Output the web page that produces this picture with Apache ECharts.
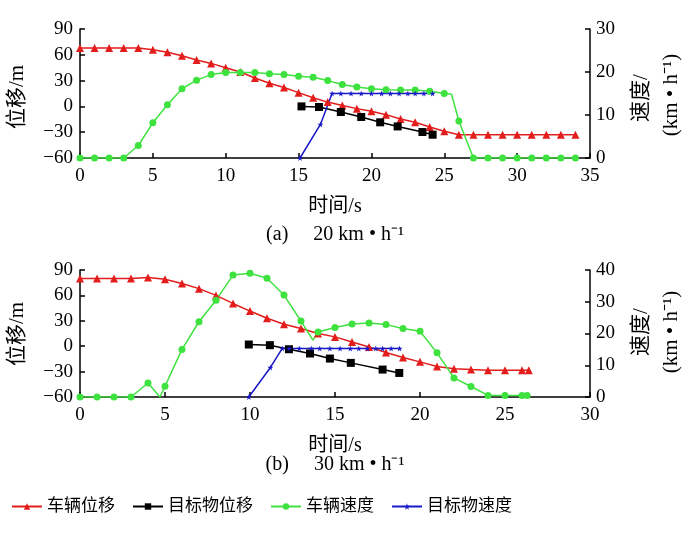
<!DOCTYPE html>
<html>
<head>
<meta charset="UTF-8">
<script src="https://cdn.jsdelivr.net/npm/echarts@6/dist/echarts.min.js"></script>
<style>
  html, body { margin: 0; padding: 0; background: #fff; }
  #chart { width: 688px; height: 538px; }
</style>
</head>
<body>
<div id="chart"></div>
<script type="text/javascript">
// (a) 20 km/h
var timeRedA = [0,1,2,3,4,5,6,7,8,9,10,11,12,13,14,15,16,17,18,19,20,21,22,23,24,25,26,27,28,29,30,31,32,33,34];
var dispRedA = [68,68,68,68,68,66,63,59,54,50,45,40,33,27,22,16,10,5,1,-2.6,-5.7,-9.6,-14.7,-18.5,-24,-29,-33,-33,-33,-33,-33,-33,-33,-33,-33];
var timeBlackA = [15.2,16.4,17.9,19.3,20.6,21.8,23.5,24.2];
var dispBlackA = [0,-0.7,-6.5,-12.3,-18.5,-23.3,-29.8,-32.9];
var timeGreenA = [0,1,2,3,4,5,6,7,8,9,10,11,12,13,14,15,16,17,18,19,20,21,22,23,24,25,25.5,26,27,28,29,30,31,32,33,34];
var speedGreenA = [0,0,0,0,2.9,8.2,12.4,16.1,18.1,19.4,19.9,19.9,19.9,19.6,19.4,19.0,18.8,18.0,17.1,16.5,16.1,15.9,15.8,15.8,15.5,15.0,14.8,8.6,0,0,0,0,0,0,0,0];
var hideGreenA = [25.5];
var timeBlueA = [15.1,16.5,17.3,17.9,18.6,19.3,20.0,20.7,21.3,21.9,22.5,23.0,23.6,24.2];
var speedBlueA = [0,7.8,15,15,15,15,15,15,15,15,15,15,15,15];

// (b) 30 km/h
var timeRedB = [0,1,2,3,4,5,6,7,8,9,10,11,12,13,14,15,16,17,18,19,20,21,22,23,24,25,26,26.4];
var dispRedB = [80,80,80,80,81,79,74,68,60,50.5,41.5,33,26,21,15,11,5,-1,-7.5,-13.4,-18.5,-24,-26.5,-27.5,-28.3,-28.3,-28.3,-28.3];
var timeBlackB = [9.93,11.17,12.29,13.53,14.7,15.93,17.8,18.78];
var dispBlackB = [2.0,1.2,-3.6,-8.6,-14.6,-19.7,-27.6,-31.6];
var timeGreenB = [0,1,2,3,4,4.7,5,6,7,8,9,10,11,12,13,13.7,14,15,16,17,18,19,20,21,22,23,24,25,26,26.3];
var speedGreenB = [0,0,0,0,4.4,0,3.4,15.0,23.7,30.5,38.4,39.0,37.4,32.1,23.9,17.9,20.5,21.9,23,23.3,22.8,21.6,20.7,13.9,6.0,3.3,0.5,0.5,0.5,0.5];
var hideGreenB = [4.7, 13.7];
var timeBlueB = [9.93,11.2,11.9,12.3,12.9,13.6,14.1,14.7,15.3,15.9,16.4,16.9,17.4,17.8,18.3,18.8];
var speedBlueB = [0,9.3,15.3,15.3,15.3,15.3,15.3,15.3,15.3,15.3,15.3,15.3,15.3,15.3,15.3,15.3];

var seriesNames = ['车辆位移', '目标物位移', '车辆速度', '目标物速度'];
var seriesColors = ['#e31c1c', '#000000', '#3ee23e', '#1818c8'];

var FONT = '"Liberation Serif", "Noto Sans CJK SC", serif';
var STAR = 'path://M50,0 L61,35 L98,35 L68,57 L79,91 L50,70 L21,91 L32,57 L2,35 L39,35 Z';

function pairs(ts, vs, hide) {
	var out = [];
	for (var i = 0; i < ts.length; i++) {
		if (hide && hide.indexOf(ts[i]) >= 0) {
			out.push({ value: [ts[i], vs[i]], symbol: 'none' });
		} else {
			out.push([ts[i], vs[i]]);
		}
	}
	return out;
}

function minus(v) {
	return String(v).replace('-', '\u2212');
}

function xAx(gi, max) {
	return {
		type: 'value', gridIndex: gi, min: 0, max: max, interval: 5,
		name: '时间/s', nameLocation: 'middle', nameGap: 39,
		nameTextStyle: { fontFamily: FONT, fontSize: 20, color: '#000' },
		axisLine: { onZero: false, lineStyle: { color: '#000', width: 1.5 } },
		axisTick: { inside: true, length: 5, lineStyle: { color: '#000', width: 1.5 } },
		axisLabel: { fontFamily: FONT, fontSize: 19, color: '#000', margin: 9 },
		splitLine: { show: false }
	};
}

function leftAx(gi) {
	return {
		type: 'value', gridIndex: gi, min: -60, max: 90, interval: 30, position: 'left',
		axisLine: { show: true, onZero: false, lineStyle: { color: '#000', width: 1.5 } },
		axisTick: { show: true, inside: true, length: 5, lineStyle: { color: '#000', width: 1.5 } },
		axisLabel: { fontFamily: FONT, fontSize: 19, color: '#000', margin: 7, formatter: minus },
		splitLine: { show: false }
	};
}

function rightAx(gi, max) {
	return {
		type: 'value', gridIndex: gi, min: 0, max: max, interval: 10, position: 'right',
		axisLine: { show: true, onZero: false, lineStyle: { color: '#000', width: 1.5 } },
		axisTick: { show: true, inside: true, length: 5, lineStyle: { color: '#000', width: 1.5 } },
		axisLabel: { fontFamily: FONT, fontSize: 19, color: '#000', margin: 6 },
		splitLine: { show: false }
	};
}

function line(idx, xi, yi, data, symbol, size) {
	return {
		name: seriesNames[idx], type: 'line', xAxisIndex: xi, yAxisIndex: yi,
		data: data, symbol: symbol, symbolSize: size, showAllSymbol: true,
		color: seriesColors[idx],
		lineStyle: { width: 1.5, color: seriesColors[idx] },
		itemStyle: { color: seriesColors[idx] },
		animation: false
	};
}

// rotated axis titles (read bottom to top)
function rotText(x, y, text) {
	return {
		type: 'text', x: x, y: y, rotation: Math.PI / 2,
		style: { text: text, fontFamily: FONT, fontSize: 21, fill: '#000', align: 'center', verticalAlign: 'middle' }
	};
}

function caption(x, y, text) {
	return {
		type: 'text', x: x, y: y,
		style: { text: text, fontFamily: FONT, fontSize: 20, fill: '#000', align: 'center', verticalAlign: 'middle' }
	};
}

var chart = echarts.init(document.getElementById('chart'), null, { renderer: 'canvas' });

var option = {
	backgroundColor: '#fff',
	animation: false,
	grid: [
		{ left: 80, top: 29, width: 510, height: 129, containLabel: false, outerBoundsMode: 'none' },
		{ left: 80, top: 270, width: 510, height: 127, containLabel: false, outerBoundsMode: 'none' }
	],
	xAxis: [xAx(0, 35), xAx(1, 30)],
	yAxis: [leftAx(0), rightAx(0, 30), leftAx(1), rightAx(1, 40)],
	legend: {
		data: seriesNames,
		left: 6, top: 493,
		itemWidth: 30, itemHeight: 8, itemGap: 17,
		textStyle: { fontFamily: FONT, fontSize: 17, color: '#000' }
	},
	graphic: [
		rotText(17, 97, '位移/m'),
		rotText(641, 98, '速度/'),
		rotText(671, 95, '(km • h\u207B\u00B9)'),
		rotText(17, 334, '位移/m'),
		rotText(641, 332, '速度/'),
		rotText(671, 332, '(km • h\u207B\u00B9)'),
		caption(335, 235, '(a)\u2003 20 km • h\u207B\u00B9'),
		caption(335, 465, '(b)\u2003 30 km • h\u207B\u00B9')
	],
	series: [
		line(0, 0, 0, pairs(timeRedA, dispRedA), 'triangle', 8),
		line(1, 0, 0, pairs(timeBlackA, dispBlackA), 'rect', 8),
		line(2, 0, 1, pairs(timeGreenA, speedGreenA, hideGreenA), 'circle', 7),
		line(3, 0, 1, pairs(timeBlueA, speedBlueA), STAR, 6),
		line(0, 1, 2, pairs(timeRedB, dispRedB), 'triangle', 8),
		line(1, 1, 2, pairs(timeBlackB, dispBlackB), 'rect', 8),
		line(2, 1, 3, pairs(timeGreenB, speedGreenB, hideGreenB), 'circle', 7),
		line(3, 1, 3, pairs(timeBlueB, speedBlueB), STAR, 6)
	]
};

chart.setOption(option);
</script>
</body>
</html>
